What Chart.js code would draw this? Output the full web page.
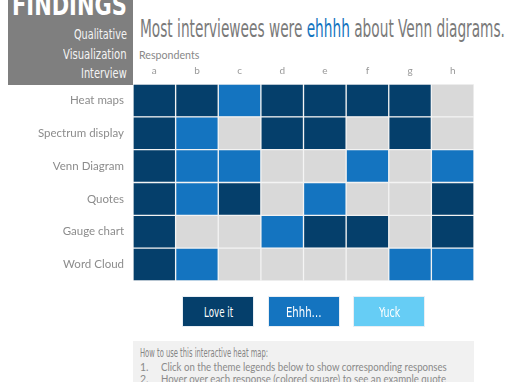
<!DOCTYPE html>
<html>
<head>
<meta charset="utf-8">
<script src="https://cdn.jsdelivr.net/npm/chart.js@4.4.1/dist/chart.umd.min.js"></script>
<style>
  html, body { margin: 0; padding: 0; background: #fff; }
  #wrap { position: relative; width: 510px; height: 382px; overflow: hidden; }
  #chart { position: absolute; left: 0; top: 0; }
  .abs { position: absolute; white-space: nowrap; transform-origin: 0 50%; }
  .narrow { font-family: 'Liberation Sans Narrow', 'DejaVu Sans Condensed', sans-serif; }
  .geo { font-family: Lato, 'Open Sans', sans-serif; }
  #badge { position: absolute; left: 8px; top: 0; width: 125px; height: 85px; background: #7f7f7f; }
  .btn { position: absolute; top: 296px; width: 72px; height: 31px; box-sizing: border-box;
         border: 1px solid #e8eef4; }
  .btn span { position: absolute; top: 7px; height: 16px; line-height: 16px; color: #fff; font-size: 14px; white-space: nowrap; transform-origin: 0 50%; }
  #howto { position: absolute; left: 133px; top: 341px; width: 341px; height: 60px; background: #f1f1f1; }
</style>
</head>
<body>
<div id="wrap">
  <div id="badge"></div>
  <div class="abs narrow" data-fit="115" style="left:12px; top:-10px; height:30px; line-height:30px; font-size:29px; font-weight:bold; color:#fff;">FINDINGS</div>
  <div class="abs narrow" data-fit="53" data-right="127" style="top:26px; height:16px; line-height:16px; font-size:14px; color:#f4f4f4;">Qualitative</div>
  <div class="abs narrow" data-fit="64" data-right="127" style="top:46px; height:16px; line-height:16px; font-size:14px; color:#f4f4f4;">Visualization</div>
  <div class="abs narrow" data-fit="46" data-right="127" style="top:65px; height:16px; line-height:16px; font-size:14px; color:#f4f4f4;">Interview</div>

  <div class="abs narrow" data-fit="365" style="left:140px; top:15px; height:28px; line-height:28px; font-size:24px; color:#7a7a7a;">Most interviewees were <span style="color:#1474c0">ehhhh</span> about Venn diagrams.</div>
  <div class="abs geo" data-fit="60" style="left:139px; top:47px; height:16px; line-height:16px; font-size:11px; color:#888;">Respondents</div>

  <canvas id="chart" width="510" height="382"></canvas>

  <div id="legendBtns"></div>

  <div id="howto"></div>
  <div class="abs narrow" data-fit="128" style="left:140px; top:345px; height:15px; line-height:15px; font-size:12.5px; color:#858585;">How to use this interactive heat map:</div>
  <div class="abs geo" style="left:140px; top:361px; height:13px; line-height:13px; font-size:10.5px; color:#8a8a8a;">1.</div>
  <div class="abs geo" data-fit="286" style="left:161px; top:361px; height:13px; line-height:13px; font-size:10.5px; color:#8a8a8a;">Click on the theme legends below to show corresponding responses</div>
  <div class="abs geo" style="left:140px; top:373px; height:13px; line-height:13px; font-size:10.5px; color:#8a8a8a;">2.</div>
  <div class="abs geo" data-fit="285" style="left:161px; top:373px; height:13px; line-height:13px; font-size:10.5px; color:#8a8a8a;">Hover over each response (colored square) to see an example quote</div>
</div>
<script>
// respondents (columns) and themes (rows)
const respondents = ['a', 'b', 'c', 'd', 'e', 'f', 'g', 'h'];
const themes = ['Heat maps', 'Spectrum display', 'Venn Diagram', 'Quotes', 'Gauge chart', 'Word Cloud'];

// one response per respondent
const heatMaps    = ['love', 'love', 'ehhh', 'love', 'love', 'love', 'love', 'none'];
const spectrum    = ['love', 'ehhh', 'none', 'love', 'love', 'none', 'love', 'none'];
const vennDiagram = ['love', 'ehhh', 'ehhh', 'none', 'none', 'ehhh', 'none', 'ehhh'];
const quotes      = ['love', 'ehhh', 'love', 'none', 'ehhh', 'none', 'none', 'love'];
const gaugeChart  = ['love', 'none', 'none', 'ehhh', 'love', 'love', 'none', 'love'];
const wordCloud   = ['love', 'ehhh', 'none', 'none', 'none', 'none', 'ehhh', 'ehhh'];
const rows = [heatMaps, spectrum, vennDiagram, quotes, gaugeChart, wordCloud];

const responseKeys   = ['love', 'ehhh', 'yuck'];
const responseLabels = ['Love it', 'Ehhh…', 'Yuck'];

const colorOf = {
  love: '#053f6b',
  ehhh: '#1474c0',
  yuck: '#66cdf5',
  none: '#d9d9d9',
};

// each respondent is a dataset of floating bars spanning its column slot
const datasets = respondents.map((r, j) => ({
  label: r,
  data: themes.map(() => [j, j + 1]),
  backgroundColor: rows.map(row => colorOf[row[j]]),
  borderColor: '#f3f3f3',
  borderWidth: 1,
  borderSkipped: false,
  grouped: false,
  barPercentage: 1,
  categoryPercentage: 1,
}));

new Chart(document.getElementById('chart').getContext('2d'), {
  type: 'bar',
  data: { labels: themes, datasets },
  options: {
    indexAxis: 'y',
    responsive: false,
    animation: false,
    layout: { padding: { left: 0, top: 0, right: 36, bottom: 101 } },
    plugins: { legend: { display: false }, tooltip: { enabled: false } },
    scales: {
      x: { type: 'linear', min: 0, max: respondents.length, display: false },
      x2: {
        type: 'category',
        labels: respondents,
        position: 'top',
        offset: true,
        grid: { display: false, drawTicks: false },
        border: { display: false },
        ticks: { color: '#999', font: { family: 'Lato', size: 10 }, padding: 7 },
        afterFit: s => { s.height = 84; },
      },
      y: {
        type: 'category',
        offset: true,
        grid: { display: false, drawTicks: false },
        border: { display: false },
        ticks: { color: '#8c8c8c', font: { family: 'Lato', size: 11.5 }, padding: 9 },
        afterFit: s => { s.width = 133; },
      },
    },
  },
});

// legend buttons
const btnBox = document.getElementById('legendBtns');
const btnTextW = [29, 36, 21];
responseKeys.forEach((k, i) => {
  const b = document.createElement('div');
  b.className = 'btn';
  b.style.left = (182 + i * 85.5) + 'px';
  b.style.background = colorOf[k];
  const t = document.createElement('span');
  t.className = 'narrow';
  t.textContent = responseLabels[i];
  t.dataset.fit = btnTextW[i];
  t.dataset.center = 35;
  b.appendChild(t);
  btnBox.appendChild(b);
});

// squeeze text to the measured widths of the original condensed face
document.querySelectorAll('[data-fit]').forEach(el => {
  const w = +el.dataset.fit;
  const k = w / el.offsetWidth;
  el.style.transform = 'scaleX(' + k + ')';
  if (el.dataset.right) el.style.left = (+el.dataset.right - w) + 'px';
  if (el.dataset.center) el.style.left = (+el.dataset.center - w / 2) + 'px';
});
</script>
</body>
</html>
